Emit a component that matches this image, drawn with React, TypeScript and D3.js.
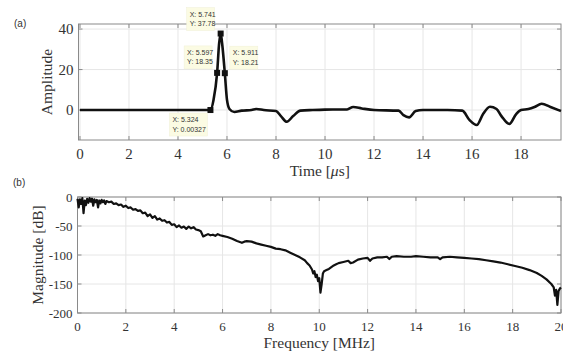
import React, { useEffect, useRef } from 'react';
import * as d3 from 'd3';

// (a) time signal
const timeUs = [0, 5.324, 5.45, 5.597, 5.68, 5.741, 5.8, 5.911, 6.0, 6.1, 6.3, 6.6, 7.0, 7.2, 7.5, 8.0, 8.2, 8.44, 8.7, 9.0, 9.5, 10.0, 10.9, 11.15, 11.5, 12.0, 13.0, 13.2, 13.43, 13.7, 14.0, 15.0, 15.6, 15.9, 16.19, 16.45, 16.73, 17.0, 17.2, 17.52, 17.8, 18.0, 18.3, 18.55, 18.84, 19.2, 19.63];
const amplitude = [0, 0.00327, 5, 18.35, 33, 37.78, 33, 18.21, 5, 0.5, -1, -0.3, 0, 0.5, 0, -0.5, -3, -5.8, -3, -0.3, 0, 0.2, 0.3, 1.5, 0.8, 0, -0.3, -2.5, -3.6, -0.5, 0, 0, -0.3, -5, -7.4, -2, 1.6, 0.5, -3, -6.9, -2, 0, 0.5, 1.5, 3.1, 1.5, -0.5];

// data tips
const tipX = [5.324, 5.597, 5.741, 5.911];
const tipY = [0.00327, 18.35, 37.78, 18.21];
const tipLabels = [['X: 5.324', 'Y: 0.00327'], ['X: 5.597', 'Y: 18.35'], ['X: 5.741', 'Y: 37.78'], ['X: 5.911', 'Y: 18.21']];

// (b) spectrum
const freqMHz = [0, 0.05, 0.1, 0.15, 0.2, 0.25, 0.3, 0.35, 0.4, 0.45, 0.5, 0.55, 0.6, 0.65, 0.7, 0.75, 0.8, 0.85, 0.9, 0.95, 1.0, 1.05, 1.1, 1.15, 1.2, 1.3, 1.4, 1.5, 1.6, 1.7, 1.8, 1.9, 2.0, 2.1, 2.2, 2.3, 2.4, 2.5, 2.6, 2.7, 2.8, 2.9, 3.0, 3.1, 3.2, 3.3, 3.4, 3.5, 3.6, 3.7, 3.8, 3.9, 4.0, 4.1, 4.2, 4.3, 4.4, 4.5, 4.6, 4.7, 4.8, 4.9, 5.0, 5.1, 5.2, 5.3, 5.4, 5.5, 5.6, 5.7, 5.8, 5.9, 6.0, 6.2, 6.4, 6.6, 6.8, 6.9, 7.0, 7.2, 7.4, 7.6, 7.8, 8.0, 8.2, 8.4, 8.6, 8.8, 9.0, 9.2, 9.4, 9.5, 9.6, 9.7, 9.75, 9.8, 9.85, 9.9, 9.95, 10.0, 10.05, 10.1, 10.15, 10.2, 10.3, 10.4, 10.5, 10.6, 10.7, 10.8, 11.0, 11.2, 11.3, 11.4, 11.6, 11.8, 12.0, 12.1, 12.2, 12.4, 12.6, 12.8, 12.9, 13.0, 13.2, 13.5, 13.8, 14.0, 14.3, 14.6, 14.9, 15.0, 15.1, 15.4, 15.7, 16.0, 16.3, 16.6, 16.9, 17.2, 17.5, 17.8, 18.1, 18.4, 18.7, 19.0, 19.2, 19.4, 19.6, 19.7, 19.75, 19.8, 19.85, 19.9, 19.95, 20.0];
const magnitudeDb = [-3, -18, -4, -12, -2, -28, -6, -14, -3, -10, -2, -8, -3, -15, -4, -9, -5, -18, -6, -11, -5, -9, -6, -12, -7, -9, -8, -12, -11, -14, -13, -17, -15, -19, -18, -22, -21, -24, -23, -28, -27, -33, -30, -36, -33, -39, -37, -41, -40, -44, -43, -48, -47, -52, -49, -53, -51, -55, -51, -54, -52, -56, -57, -59, -68, -66, -64, -66, -65, -67, -64, -66, -67, -69, -72, -76, -79, -77, -76, -77, -80, -82, -84, -86, -89, -90, -92, -96, -100, -104, -109, -114, -118, -125, -132, -128, -138, -134, -145, -140, -165, -150, -132, -128, -126, -124, -121, -118, -116, -114, -112, -110, -114, -113, -108, -106, -105, -110, -106, -104, -104, -103, -107, -103, -102, -103, -103, -102, -103, -104, -104, -107, -104, -103, -104, -105, -106, -107, -109, -111, -113, -116, -119, -122, -126, -131, -136, -142, -150, -156, -170, -160, -186, -162, -158, -156];

const timeTicks = [0, 2, 4, 6, 8, 10, 12, 14, 16, 18];
const ampTicks = [0, 20, 40];
const freqTicks = [0, 2, 4, 6, 8, 10, 12, 14, 16, 18, 20];
const dbTicks = [0, -50, -100, -150, -200];

const W = 563;
const H = 354;
const SERIF = '"Liberation Serif", "Times New Roman", serif';
const SANS = '"Liberation Sans", Arial, sans-serif';

export default function App() {
  const svgRef = useRef<SVGSVGElement>(null);

  useEffect(() => {
    document.body.style.margin = '0';
    const svgElement = svgRef.current;
    if (!svgElement) return;
    const svg = d3.select(svgElement);
    svg.selectAll('*').remove();

    const drawFrame = (
      x: d3.ScaleLinear<number, number>,
      y: d3.ScaleLinear<number, number>,
      xt: number[],
      yt: number[],
      tickSize: number,
      xLabel: (t: d3.Selection<SVGTextElement, unknown, null, undefined>) => void,
      yLabel: string,
      yLabelX: number,
      xTickY: number,
      xLabelY: number
    ) => {
      const [x0, x1] = x.range();
      const [y1, y0] = y.range();
      const g = svg.append('g');

      // grid
      g.selectAll('.gx').data(xt).enter().append('line')
        .attr('x1', d => x(d)).attr('x2', d => x(d))
        .attr('y1', y0).attr('y2', y1)
        .style('stroke', '#e6e6e6').style('stroke-width', 1);
      g.selectAll('.gy').data(yt).enter().append('line')
        .attr('x1', x0).attr('x2', x1)
        .attr('y1', d => y(d)).attr('y2', d => y(d))
        .style('stroke', '#e6e6e6').style('stroke-width', 1);

      // box
      g.append('rect')
        .attr('x', x0).attr('y', y0)
        .attr('width', x1 - x0).attr('height', y1 - y0)
        .attr('fill', 'none')
        .style('stroke', '#8a8a8a').style('stroke-width', 1);

      // inward ticks on all sides
      xt.forEach(t => {
        g.append('line').attr('x1', x(t)).attr('x2', x(t)).attr('y1', y1).attr('y2', y1 - 4).style('stroke', '#8a8a8a');
        g.append('line').attr('x1', x(t)).attr('x2', x(t)).attr('y1', y0).attr('y2', y0 + 4).style('stroke', '#8a8a8a');
      });
      yt.forEach(t => {
        g.append('line').attr('x1', x0).attr('x2', x0 + 4).attr('y1', y(t)).attr('y2', y(t)).style('stroke', '#8a8a8a');
        g.append('line').attr('x1', x1).attr('x2', x1 - 4).attr('y1', y(t)).attr('y2', y(t)).style('stroke', '#8a8a8a');
      });

      // tick labels
      g.selectAll('.tx').data(xt).enter().append('text')
        .attr('x', d => x(d)).attr('y', xTickY)
        .attr('text-anchor', 'middle')
        .style('font-family', SERIF).style('font-size', `${tickSize}px`).style('fill', '#333')
        .text(d => String(d));
      g.selectAll('.ty').data(yt).enter().append('text')
        .attr('x', x0 - 5).attr('y', d => y(d))
        .attr('dy', '0.35em')
        .attr('text-anchor', 'end')
        .style('font-family', SERIF).style('font-size', `${tickSize}px`).style('fill', '#333')
        .text(d => String(d));

      // axis labels
      const xl = g.append('text')
        .attr('x', (x0 + x1) / 2).attr('y', xLabelY)
        .attr('text-anchor', 'middle')
        .style('font-family', SERIF).style('font-size', '15.5px').style('fill', '#333');
      xLabel(xl);
      g.append('text')
        .attr('transform', `translate(${yLabelX}, ${(y0 + y1) / 2}) rotate(-90)`)
        .attr('text-anchor', 'middle')
        .style('font-family', SERIF).style('font-size', '15.5px').style('fill', '#333')
        .text(yLabel);
      return g;
    };

    // ---- (a) time domain
    const xA = d3.scaleLinear().domain([-0.06, 19.63]).range([78.5, 561]);
    const yA = d3.scaleLinear().domain([-14.8, 42.5]).range([140, 24]);
    const gA = drawFrame(xA, yA, timeTicks, ampTicks, 15, t => {
      t.append('tspan').text('Time [');
      t.append('tspan').style('font-style', 'italic').text('\u03bc');
      t.append('tspan').text('s]');
    }, 'Amplitude', 52, 159, 176);

    const lineA = d3.line<number>()
      .x((_, i) => xA(timeUs[i]))
      .y(d => yA(d))
      .curve(d3.curveMonotoneX);
    gA.append('path')
      .datum(amplitude)
      .attr('fill', 'none')
      .attr('stroke', '#111')
      .attr('stroke-width', 2.6)
      .attr('stroke-linejoin', 'round')
      .attr('d', lineA);

    // data tips: offsets of the box from its point
    const tipOffsets: [number, number][] = [[-41, 3], [-33, -27], [-34, -26], [5, -27]];
    tipX.forEach((tx, i) => {
      const px = xA(tx);
      const py = yA(tipY[i]);
      gA.append('rect')
        .attr('x', px - 3).attr('y', py - 3)
        .attr('width', 6).attr('height', 6)
        .attr('fill', '#111');
      const [ox, oy] = tipOffsets[i];
      const lbl = tipLabels[i];
      const bw = i === 0 ? 38 : 28;
      const bx = px + ox;
      const by = py + oy;
      gA.append('rect')
        .attr('x', bx).attr('y', by)
        .attr('width', bw).attr('height', 23)
        .attr('fill', '#fbfbe3')
        .style('stroke', '#f0f0d8').style('stroke-width', 0.5);
      lbl.forEach((s, j) => {
        gA.append('text')
          .attr('x', bx + 3).attr('y', by + 9 + j * 9.5)
          .style('font-family', SANS).style('font-size', '7px').style('fill', '#333')
          .text(s);
      });
    });

    svg.append('text').attr('x', 14).attr('y', 27)
      .style('font-family', SANS).style('font-size', '10px').style('fill', '#333').text('(a)');

    // ---- (b) spectrum
    const xB = d3.scaleLinear().domain([0, 20]).range([77.5, 561]);
    const yB = d3.scaleLinear().domain([-200, 0]).range([313, 197]);
    const gB = drawFrame(xB, yB, freqTicks, dbTicks, 13, t => {
      t.text('Frequency [MHz]');
    }, 'Magnitude [dB]', 43, 331, 348);

    const lineB = d3.line<number>()
      .x((_, i) => xB(freqMHz[i]))
      .y(d => yB(d));
    gB.append('path')
      .datum(magnitudeDb)
      .attr('fill', 'none')
      .attr('stroke', '#111')
      .attr('stroke-width', 2.2)
      .attr('stroke-linejoin', 'round')
      .attr('d', lineB);

    svg.append('text').attr('x', 13).attr('y', 186)
      .style('font-family', SANS).style('font-size', '10px').style('fill', '#333').text('(b)');
  }, []);

  return <svg ref={svgRef} width={W} height={H} style={{ display: 'block', background: '#fff' }} />;
}
